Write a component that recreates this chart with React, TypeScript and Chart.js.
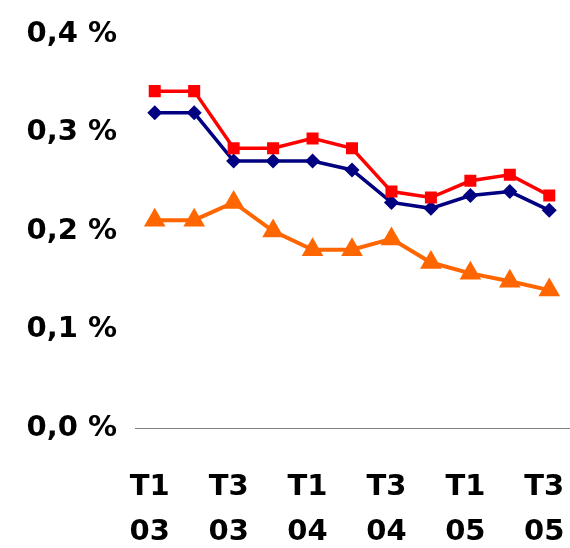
import React, { useEffect, useRef } from "react";
import { Chart, registerables } from "chart.js";

Chart.register(...registerables);

// Quarterly periods, T1 2003 through T3 2005
const quarters = [
  ["T1", "03"], ["T2", "03"], ["T3", "03"], ["T4", "03"],
  ["T1", "04"], ["T2", "04"], ["T3", "04"], ["T4", "04"],
  ["T1", "05"], ["T2", "05"], ["T3", "05"],
];

// Rates in percent
const seriesRed = [0.342, 0.342, 0.284, 0.284, 0.294, 0.284, 0.240, 0.234, 0.251, 0.257, 0.236];
const seriesBlue = [0.320, 0.320, 0.271, 0.271, 0.271, 0.262, 0.229, 0.223, 0.236, 0.240, 0.221];
const seriesOrange = [0.211, 0.211, 0.229, 0.200, 0.181, 0.181, 0.192, 0.168, 0.157, 0.149, 0.140];

const yTicks = [0, 0.1, 0.2, 0.3, 0.4];

const FONT = "'DejaVu Sans', sans-serif";

export default function App() {
  const canvasRef = useRef<HTMLCanvasElement | null>(null);

  useEffect(() => {
    const canvas = canvasRef.current;
    if (!canvas) return;
    const chart = new Chart(canvas, {
      type: "line",
      data: {
        labels: quarters.map((q) => q.join(" ")),
        datasets: [
          {
            data: seriesOrange,
            borderColor: "#FF6600",
            backgroundColor: "#FF6600",
            borderWidth: 4,
            pointStyle: "triangle",
            pointRadius: 12.5,
            pointBorderWidth: 0,
            tension: 0,
          },
          {
            data: seriesRed,
            borderColor: "#FF0000",
            backgroundColor: "#FF0000",
            borderWidth: 3.5,
            pointStyle: "rect",
            pointRadius: 8.5,
            pointBorderWidth: 0,
            tension: 0,
          },
          {
            data: seriesBlue,
            borderColor: "#000080",
            backgroundColor: "#000080",
            borderWidth: 3.5,
            pointStyle: "rectRot",
            pointRadius: 7.5,
            pointBorderWidth: 0,
            tension: 0,
          },
        ],
      },
      options: {
        animation: false,
        responsive: false,
        maintainAspectRatio: false,
        layout: { autoPadding: false, padding: { top: 34, right: 1, bottom: 0, left: 0 } },
        plugins: {
          legend: { display: false },
          tooltip: { enabled: false },
        },
        scales: {
          x: {
            offset: true,
            grid: { display: false, drawTicks: false },
            border: { display: true, color: "#808080", width: 1 },
            ticks: {
              autoSkip: false,
              maxRotation: 0,
              minRotation: 0,
              padding: 37,
              labelOffset: -5,
              color: "#000000",
              font: { family: FONT, size: 29, weight: "bold", lineHeight: 1.55 },
              callback: (_v: any, i: number) => (i % 2 === 0 ? quarters[i] : ""),
            },
            afterFit: (s: any) => {
              s.height = 120;
              s.paddingLeft = 0;
              s.paddingRight = 0;
            },
          },
          y: {
            min: 0,
            max: 0.4,
            afterBuildTicks: (s: any) => {
              s.ticks = yTicks.map((v) => ({ value: v }));
            },
            grid: { display: false, drawTicks: false },
            border: { display: false },
            ticks: {
              padding: 18,
              color: "#000000",
              font: { family: FONT, size: 29, weight: "bold" },
              callback: (v: any) => Number(v).toFixed(1).replace(".", ",") + " %",
            },
            afterFit: (s: any) => {
              s.width = 135;
              s.paddingTop = 0;
              s.paddingBottom = 0;
            },
          },
        },
      },
    });
    return () => chart.destroy();
  }, []);

  return (
    <div style={{ position: "absolute", left: 0, top: 0, width: 570, height: 548, background: "#ffffff" }}>
      <canvas ref={canvasRef} width={570} height={548} style={{ display: "block" }} />
    </div>
  );
}
